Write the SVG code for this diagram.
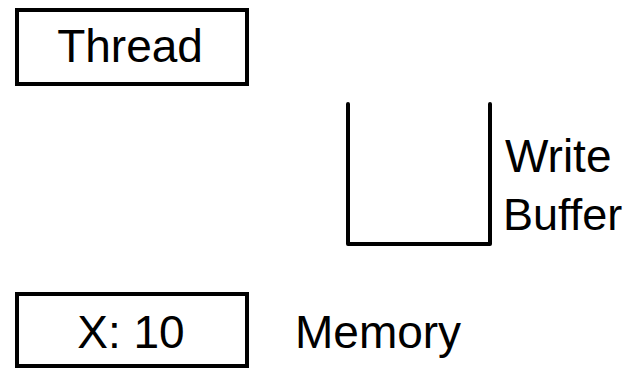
<svg xmlns="http://www.w3.org/2000/svg" width="631" height="369" viewBox="0 0 631 369">
<style>
.box{fill:#fff;stroke:#000;stroke-width:4}
.line{fill:none;stroke:#000;stroke-width:4;stroke-linejoin:round;stroke-linecap:round}
text{font-family:"Liberation Sans",Arial,sans-serif;font-size:46px;fill:#000}
</style>
<rect width="631" height="369" fill="#fff"/>
<g id="thread">
<rect class="box" x="17" y="10" width="230" height="74"/>
<text x="130" y="62" text-anchor="middle">Thread</text>
</g>
<g id="write-buffer">
<path class="line" d="M348,104 V244 H490 V104"/>
<text x="505" y="172" font-size="45">Write</text>
<text x="503" y="230" style="font-size:45px">Buffer</text>
</g>
<g id="memory">
<rect class="box" x="17" y="294" width="230" height="72"/>
<text x="131" y="348" text-anchor="middle">X: 10</text>
<text x="295" y="348">Memory</text>
</g>
<g id="connectors"></g>
</svg>
